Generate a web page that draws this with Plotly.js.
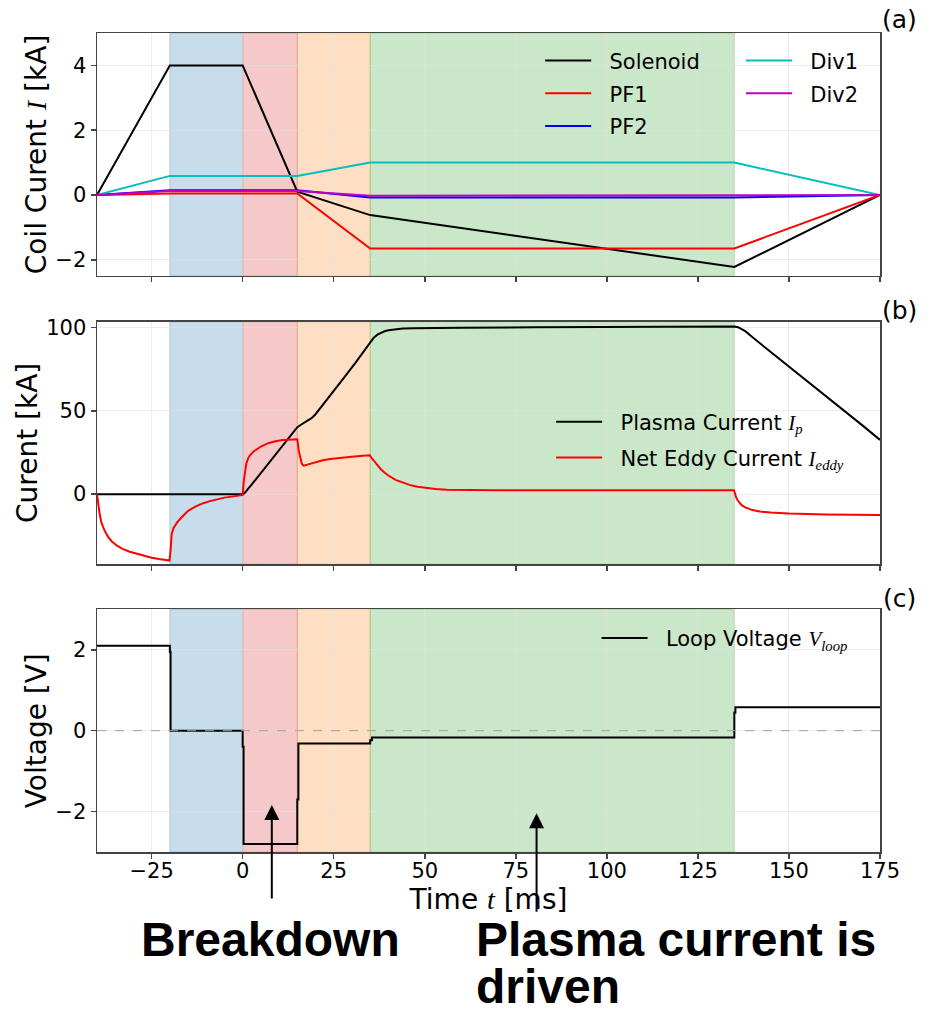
<!DOCTYPE html>
<html>
<head>
<meta charset="utf-8">
<script src="https://cdn.plot.ly/plotly-3.0.1.min.js"></script>
<style>html,body{margin:0;padding:0;background:#fff;}#chart{width:932px;height:1017px;}</style>
</head>
<body>
<div id="chart"></div>
<script>
// ---------- phases (shaded spans) ----------
const phaseStart = [-20, 0, 15, 35];
const phaseEnd   = [0, 15, 35, 135];
const phaseColor = ['31,119,180', '214,39,40', '255,127,14', '44,160,44'];

// ---------- panel (a): coil currents [kA] ----------
const tCoil    = [-40, -20, 0, 15, 35, 135, 175];
const solenoid = [0, 4.0, 4.0, 0.1, -0.62, -2.22, 0];
const pf1      = [0, 0.05, 0.05, 0.05, -1.65, -1.65, 0];
const pf2      = [0, 0.15, 0.15, 0.15, -0.08, -0.08, 0];
const div1     = [0, 0.59, 0.59, 0.59, 1.0, 1.0, 0];
const div2     = [0, 0.12, 0.12, 0.12, -0.02, -0.02, 0];

// ---------- panel (b): plasma & eddy current [kA] ----------
const tIp = [-40, 0, 0.5, 1, 2, 4, 7, 10, 13, 15, 16, 17, 18, 19, 20, 22, 25, 28, 31, 33, 34, 35,
             35.5, 36, 37, 38, 39, 40, 42, 44, 47, 50, 60, 80, 100, 120, 135, 136, 137, 138,
             140, 150, 160, 170, 175];
const ip  = [0, 0, 0.6, 1.8, 4.5, 9.9, 18, 26.2, 34.5, 40.2, 41.7, 43, 44.3, 45.8, 48, 53.5, 62, 70.5, 79, 85, 88, 91,
             92.8, 94, 95.8, 97, 97.9, 98.5, 99.2, 99.5, 99.7, 99.8, 100, 100.2, 100.4, 100.6, 100.7, 100.3, 99.3, 97.9,
             94.2, 76.8, 59.5, 41.6, 32.6];

const tEddy = [-40, -39.7, -39.3, -38.8, -38, -37, -36, -34.5, -33, -31, -29, -27, -25, -23, -21, -20.1,
               -19.8, -19.5, -19, -18.5, -18, -17, -16, -15, -13, -11, -9, -7, -5, -3, -1, -0.1,
               0, 0.3, 0.6, 1, 1.5, 2, 3, 4, 5, 7, 9, 11, 13, 14.9,
               15, 15.4, 15.8, 16.2, 16.6, 17, 18, 19, 20, 22, 24, 27, 30, 33, 34.9,
               35.3, 36, 37, 38, 39, 40, 42, 44, 46, 48, 50, 53, 56, 60, 70, 80, 100, 120, 134.9,
               135.1, 135.5, 136, 136.5, 137, 138, 140, 142, 145, 150, 160, 175];
const eddy  = [0, -6, -11.5, -17, -21.5, -25.5, -28.3, -31, -32.9, -34.6, -35.9, -37.2, -38.2, -39, -39.6, -39.9,
               -34, -24, -20.5, -18.5, -17, -14.5, -12, -10, -7.5, -5.6, -4.2, -3.0, -2.1, -1.5, -1.0, -0.8,
               -0.5, 8, 14, 18.4, 21.5, 23.3, 25.6, 27.2, 28.6, 30.6, 31.8, 32.5, 32.9, 33.2,
               33, 26, 21.5, 18.5, 17.3, 17.2, 17.9, 18.6, 19.2, 20.3, 21.1, 21.9, 22.5, 23, 23.3,
               22, 20, 17.2, 14.8, 12.8, 11.2, 8.6, 6.8, 5.4, 4.4, 3.7, 3.1, 2.7, 2.5, 2.3, 2.3, 2.3, 2.3, 2.3,
               1.0, -2, -4, -5.6, -6.6, -8, -9.6, -10.4, -11.1, -11.7, -12.3, -12.6];

// ---------- panel (c): loop voltage [V] ----------
const tV    = [-40, -20, -20, -19.8, -19.8, 0, 0, 0.25, 0.25, 15, 15, 15.3, 15.3, 35, 35, 35.5, 35.5, 135, 135, 135.3, 135.3, 175];
const vLoop = [2.1, 2.1, 1.95, 1.95, 0, 0, -0.4, -0.4, -2.8, -2.8, -1.7, -1.7, -0.32, -0.32, -0.24, -0.24, -0.17, -0.17, 0.45, 0.45, 0.58, 0.58];

// ---------- annotations text ----------
const panelLabels = ['(a)', '(b)', '(c)'];
const arrowTargets = [{x: 8, y: -1.84, len: 95}, {x: 80.7, y: -2.04, len: 100}];

const FONT = 'DejaVu Sans';
const MATH = 'font-family:Liberation Serif';
const PAD = '\u00A0\u00A0';
const lw = 2;

function tr(x, y, name, color, xa, ya, legend) {
  return {x: x, y: y, name: PAD + name, legendgroup: name, type: 'scatter', mode: 'lines',
          line: {color: color, width: lw}, xaxis: xa, yaxis: ya, legend: legend};
}

const data = [
  tr(tCoil, solenoid, 'Solenoid', '#000000', 'x', 'y', 'legend'),
  tr(tCoil, pf1, 'PF1', '#ff0000', 'x', 'y', 'legend'),
  tr(tCoil, pf2, 'PF2', '#0000ff', 'x', 'y', 'legend'),
  tr(tCoil, div1, 'Div1', '#00bfbf', 'x', 'y', 'legend2'),
  tr(tCoil, div2, 'Div2', '#bf00bf', 'x', 'y', 'legend2'),
  tr(tIp, ip, 'Plasma Current <span style="' + MATH + '"><i>I</i><sub><i>p</i></sub></span>', '#000000', 'x2', 'y2', 'legend3'),
  tr(tEddy, eddy, 'Net Eddy Current <span style="' + MATH + '"><i>I</i><sub><i>eddy</i></sub></span>', '#ff0000', 'x2', 'y2', 'legend3'),
  tr(tV, vLoop, 'Loop Voltage <span style="' + MATH + '"><i>V</i><sub><i>loop</i></sub></span>', '#000000', 'x3', 'y3', 'legend4')
];

// shading shapes
const shapes = [];
['', '2', '3'].forEach(function (s) {
  for (let i = 0; i < phaseStart.length; i++) {
    shapes.push({type: 'rect', xref: 'x' + s, yref: 'y' + s + ' domain', x0: phaseStart[i], x1: phaseEnd[i], y0: 0, y1: 1,
                 fillcolor: 'rgba(' + phaseColor[i] + ',0.25)', line: {width: 1, color: 'rgba(' + phaseColor[i] + ',0.25)'}, layer: 'below'});
  }
});
shapes.push({type: 'line', xref: 'x3 domain', yref: 'y3', x0: 0, x1: 1, y0: 0, y1: 0,
             line: {color: '#a0a0a0', width: 1, dash: 'dash'}, layer: 'above'});

const axisCommon = {
  showline: true, mirror: true, linecolor: '#444', linewidth: 1.5,
  ticks: 'outside', ticklen: 5, tickwidth: 1.5, tickcolor: '#444',
  showgrid: true, gridcolor: 'rgba(225,225,225,0.6)', gridwidth: 1,
  zeroline: false, tickfont: {family: FONT, size: 21, color: '#000'}
};
function xax(extra) {
  return Object.assign({}, axisCommon, {range: [-40, 175], tick0: 0, dtick: 25}, extra);
}
function yax(extra) {
  return Object.assign({}, axisCommon, extra);
}

const titleFont = {family: FONT, size: 28, color: '#000'};
const legendBase = {bgcolor: 'rgba(0,0,0,0)', borderwidth: 0, font: {family: FONT, size: 21, color: '#000'},
                    xanchor: 'left', yanchor: 'top', tracegroupgap: 2.5, itemwidth: 46};

const annotations = [];
const labelY = [1.017, 0.6606, 0.3101];
panelLabels.forEach(function (t, i) {
  annotations.push({text: t, xref: 'paper', yref: 'paper', x: 1.0255, y: labelY[i], xanchor: 'center', yanchor: 'middle',
                    showarrow: false, font: {family: FONT, size: 25, color: '#000'}});
});
arrowTargets.forEach(function (a) {
  annotations.push({text: '', xref: 'x3', yref: 'y3', x: a.x, y: a.y, ax: 0, ay: a.len, showarrow: true,
                    arrowhead: 2, arrowsize: 1.5, arrowwidth: 2, arrowcolor: '#000'});
});
const bigFont = {family: 'Liberation Sans, Arial', size: 48, color: '#000', weight: 'bold'};
annotations.push({text: '<b>Breakdown</b>', xref: 'paper', yref: 'paper', x: 0.2222, y: -0.1074, xanchor: 'center', yanchor: 'middle', showarrow: false, font: bigFont});
annotations.push({text: '<b>Plasma current is</b>', xref: 'paper', yref: 'paper', x: 0.4811, y: -0.1074, xanchor: 'left', yanchor: 'middle', showarrow: false, font: bigFont});
annotations.push({text: '<b>driven</b>', xref: 'paper', yref: 'paper', x: 0.4811, y: -0.1642, xanchor: 'left', yanchor: 'middle', showarrow: false, font: bigFont});

const layout = {
  width: 932, height: 1017,
  margin: {l: 97, r: 52, t: 33, b: 165},
  paper_bgcolor: '#fff', plot_bgcolor: '#fff',
  font: {family: FONT, color: '#000'},
  xaxis:  xax({domain: [0, 1], anchor: 'y', showticklabels: false}),
  xaxis2: xax({domain: [0, 1], anchor: 'y2', showticklabels: false, matches: 'x'}),
  xaxis3: xax({domain: [0, 1], anchor: 'y3', matches: 'x', ticklabelstandoff: -6,
               title: {text: 'Time <span style="' + MATH + '"><i>t</i></span> [ms]', font: titleFont, standoff: 0}}),
  yaxis:  yax({domain: [0.7033, 1], anchor: 'x', range: [-2.5, 5], tick0: 0, dtick: 2,
               title: {text: 'Coil Curent <span style="' + MATH + '"><i>I</i></span> [kA]', font: titleFont, standoff: 0}}),
  yaxis2: yax({domain: [0.3516, 0.6475], anchor: 'x2', range: [-42, 103.6], tick0: 0, dtick: 50,
               title: {text: 'Curent [kA]', font: titleFont, standoff: 0}}),
  yaxis3: yax({domain: [0, 0.2963], anchor: 'x3', range: [-3, 3], tick0: 0, dtick: 2,
               title: {text: 'Voltage [V]', font: titleFont, standoff: 0}}),
  legend:  Object.assign({}, legendBase, {x: 0.566, y: 0.991}),
  legend2: Object.assign({}, legendBase, {x: 0.8225, y: 0.991}),
  legend3: Object.assign({}, legendBase, {x: 0.58, y: 0.55, tracegroupgap: 5.6}),
  legend4: Object.assign({}, legendBase, {x: 0.638, y: 0.286}),
  shapes: shapes,
  annotations: annotations,
  showlegend: true
};

Plotly.newPlot('chart', data, layout, {displayModeBar: false, staticPlot: true});
</script>
</body>
</html>
